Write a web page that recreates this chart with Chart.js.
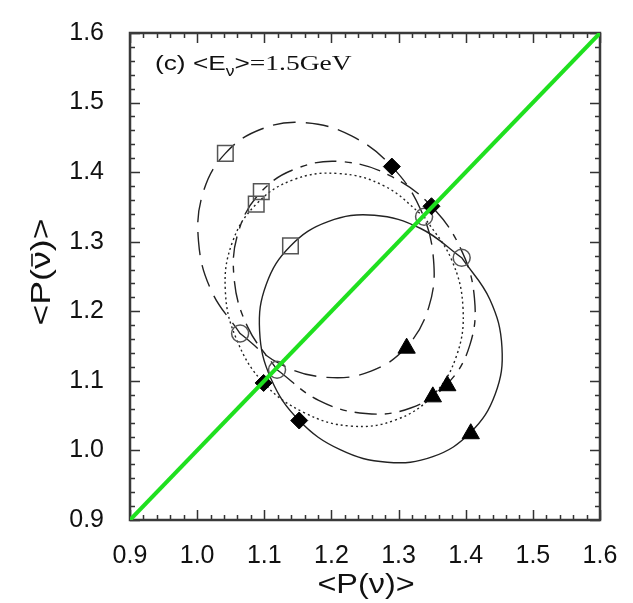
<!DOCTYPE html>
<html>
<head>
<meta charset="utf-8">
<script src="https://cdn.jsdelivr.net/npm/chart.js@4.4.1/dist/chart.umd.min.js"></script>
<style>
  html, body { margin: 0; padding: 0; background: #fff; }
  canvas { display: block; }
</style>
</head>
<body>
<canvas id="bipChart" width="633" height="603"></canvas>
<script>
// axis ticks
const tickValues = [0.9, 1.0, 1.1, 1.2, 1.3, 1.4, 1.5, 1.6];

// diagonal P(nu) = P(nubar)
const diagX = [0.9, 1.6];
const diagY = [0.9, 1.6];

// ellipse traces (closed: first point repeated)
const solidX = [1.394, 1.436, 1.454, 1.444, 1.4075, 1.351, 1.283, 1.213, 1.152, 1.110, 1.093, 1.103, 1.139, 1.195, 1.264, 1.333, 1.394];
const solidY = [1.277, 1.217, 1.148, 1.081, 1.026, 0.991, 0.983, 1.001, 1.043, 1.103, 1.172, 1.239, 1.294, 1.329, 1.338, 1.319, 1.277];

const longDashX = [1.064, 1.124, 1.193, 1.259, 1.312, 1.345, 1.352, 1.333, 1.290, 1.230, 1.161, 1.096, 1.042, 1.009, 1.002, 1.021, 1.064];
const longDashY = [1.168, 1.124, 1.105, 1.114, 1.149, 1.206, 1.275, 1.346, 1.408, 1.452, 1.471, 1.462, 1.427, 1.371, 1.301, 1.230, 1.168];

const dashDotX = [1.119, 1.181, 1.251, 1.318, 1.3725, 1.406, 1.413, 1.393, 1.349, 1.287, 1.217, 1.150, 1.0955, 1.062, 1.055, 1.075, 1.119];
const dashDotY = [1.116, 1.072, 1.053, 1.061, 1.0955, 1.151, 1.219, 1.289, 1.351, 1.395, 1.415, 1.406, 1.372, 1.316, 1.248, 1.178, 1.116];

const dottedX = [1.338, 1.379, 1.396, 1.386, 1.351, 1.296, 1.229, 1.160, 1.099, 1.059, 1.042, 1.052, 1.088, 1.143, 1.210, 1.279, 1.338];
const dottedY = [1.336, 1.274, 1.204, 1.135, 1.079, 1.044, 1.035, 1.054, 1.097, 1.159, 1.229, 1.298, 1.354, 1.389, 1.398, 1.380, 1.336];

// markers (order: solid, long dash, dash-dot, dotted)
const circleX = [1.394, 1.064, 1.119, 1.338];
const circleY = [1.277, 1.168, 1.116, 1.336];
const triangleX = [1.4075, 1.312, 1.3725, 1.351];
const triangleY = [1.024, 1.147, 1.093, 1.077];
const diamondX = [1.152, 1.290, 1.349, 1.099];
const diamondY = [1.043, 1.408, 1.351, 1.097];
const squareX = [1.139, 1.042, 1.0955, 1.088];
const squareY = [1.294, 1.427, 1.372, 1.354];

const pts = (xs, ys) => xs.map((x, i) => ({ x: x, y: ys[i] }));

const INK = "#222";
const SANS = "'Liberation Sans', Arial, 'DejaVu Sans', sans-serif";
const SERIF = "'Liberation Serif', 'Times New Roman', serif";

function curve(xs, ys, dash) {
    return {
        data: pts(xs, ys),
        showLine: true,
        borderColor: INK,
        borderWidth: 1.4,
        borderDash: dash,
        tension: 0.4,
        pointRadius: 0,
        fill: false
    };
}

function marker(xs, ys, style, r, filled) {
    return {
        data: pts(xs, ys),
        showLine: false,
        pointStyle: style,
        pointRadius: r,
        pointBorderWidth: filled ? 1 : 1.5,
        borderColor: filled ? "#000" : "#555",
        backgroundColor: filled ? "#000" : "rgba(0,0,0,0)",
        pointBackgroundColor: filled ? "#000" : "rgba(0,0,0,0)",
        pointBorderColor: filled ? "#000" : "#555"
    };
}

// draw a run of text pieces one after another, returns end x
function drawRun(ctx, parts, x, y) {
    parts.forEach(p => {
        ctx.font = p.font;
        ctx.fillText(p.t, x, y + (p.dy || 0));
        x += ctx.measureText(p.t).width;
    });
    return x;
}

// inward ticks + frame, labels drawn by hand
const framePlugin = {
    id: "frame",
    beforeDatasetsDraw(chart) {
        const { ctx, chartArea: a, scales } = chart;
        ctx.save();
        ctx.strokeStyle = "#333";
        ctx.lineWidth = 1.5;
        for (let i = 0; i <= 35; i++) {
            const v = 0.9 + i * 0.02;
            const len = i % 5 === 0 ? 10 : 5;
            const px = Math.round(scales.x.getPixelForValue(v)) + 0.5;
            const py = Math.round(scales.y.getPixelForValue(v)) + 0.5;
            ctx.beginPath();
            ctx.moveTo(px, a.bottom); ctx.lineTo(px, a.bottom - len);
            ctx.moveTo(px, a.top); ctx.lineTo(px, a.top + len);
            ctx.moveTo(a.left, py); ctx.lineTo(a.left + len, py);
            ctx.moveTo(a.right, py); ctx.lineTo(a.right - len, py);
            ctx.stroke();
        }
        ctx.lineWidth = 2.5;
        ctx.strokeStyle = "#3a3a3a";
        ctx.strokeRect(a.left, a.top, a.right - a.left, a.bottom - a.top);
        ctx.restore();
    },
    afterDraw(chart) {
        const { ctx } = chart;
        ctx.save();
        ctx.fillStyle = "#111";
        ctx.textAlign = "left";
        ctx.textBaseline = "alphabetic";
        const big = "27px " + SANS;

        // x title
        ctx.save();
        ctx.translate(366, 593);
        ctx.scale(1.2, 1);
        ctx.font = big;
        let w = ctx.measureText("<P(\u03bd)>").width;
        ctx.fillText("<P(\u03bd)>", -w / 2, 0);
        ctx.restore();

        // y title, nu with a bar over it
        ctx.save();
        ctx.translate(50, 272);
        ctx.rotate(-Math.PI / 2);
        ctx.scale(1.32, 1);
        ctx.font = big;
        const a1 = ctx.measureText("<P(").width;
        const nu = ctx.measureText("\u03bd").width;
        const a2 = ctx.measureText(")>").width;
        const x0 = -(a1 + nu + a2) / 2;
        ctx.fillText("<P(", x0, 0);
        ctx.fillText("\u03bd", x0 + a1, 0);
        ctx.fillText(")>", x0 + a1 + nu, 0);
        ctx.strokeStyle = "#111";
        ctx.lineWidth = 1.6;
        ctx.beginPath();
        ctx.moveTo(x0 + a1 + 2, -18);
        ctx.lineTo(x0 + a1 + nu - 2, -18);
        ctx.stroke();
        ctx.restore();

        // panel note
        ctx.save();
        ctx.translate(155, 70);
        ctx.scale(1.25, 1);
        drawRun(ctx, [
            { t: "(c) <E", font: "21px " + SANS },
            { t: "\u03bd", font: "14px " + SANS, dy: 6 },
            { t: ">", font: "21px " + SANS },
            { t: "=1.5GeV", font: "22px " + SERIF }
        ], 0, 0);
        ctx.restore();

        ctx.restore();
    }
};

const tickFont = { size: 25, family: SANS };

new Chart(document.getElementById("bipChart").getContext("2d"), {
    type: "scatter",
    data: {
        datasets: [
            {
                data: pts(diagX, diagY),
                showLine: true,
                borderColor: "#1fe01f",
                borderWidth: 4,
                pointRadius: 0,
                tension: 0
            },
            marker(triangleX, triangleY, "triangle", 10, true),
            marker(diamondX, diamondY, "rectRot", 8.5, true),
            marker(circleX, circleY, "circle", 8.5, false),
            marker(squareX, squareY, "rect", 11, false),
            curve(solidX, solidY, []),
            curve(longDashX, longDashY, [23, 10]),
            curve(dashDotX, dashDotY, [22, 8, 7, 8]),
            curve(dottedX, dottedY, [2, 3])
        ]
    },
    options: {
        responsive: false,
        animation: false,
        devicePixelRatio: 1,
        layout: { padding: { left: 0, top: 18, right: 33, bottom: 0 } },
        plugins: {
            legend: { display: false },
            tooltip: { enabled: false }
        },
        scales: {
            x: {
                type: "linear",
                min: 0.9,
                max: 1.6,
                afterBuildTicks: (s) => { s.ticks = tickValues.map(v => ({ value: v })); },
                afterFit: (s) => { s.height = 83; },
                grid: { display: false },
                border: { display: false },
                ticks: {
                    font: tickFont,
                    color: "#111",
                    padding: 13,
                    maxRotation: 0,
                    autoSkip: false,
                    callback: (v) => Number(v).toFixed(1)
                }
            },
            y: {
                type: "linear",
                min: 0.9,
                max: 1.6,
                afterBuildTicks: (s) => { s.ticks = tickValues.map(v => ({ value: v })); },
                afterFit: (s) => { s.width = 130; },
                grid: { display: false },
                border: { display: false },
                ticks: {
                    font: tickFont,
                    color: "#111",
                    padding: 18,
                    autoSkip: false,
                    callback: (v) => Number(v).toFixed(1)
                }
            }
        }
    },
    plugins: [framePlugin]
});
</script>
</body>
</html>
